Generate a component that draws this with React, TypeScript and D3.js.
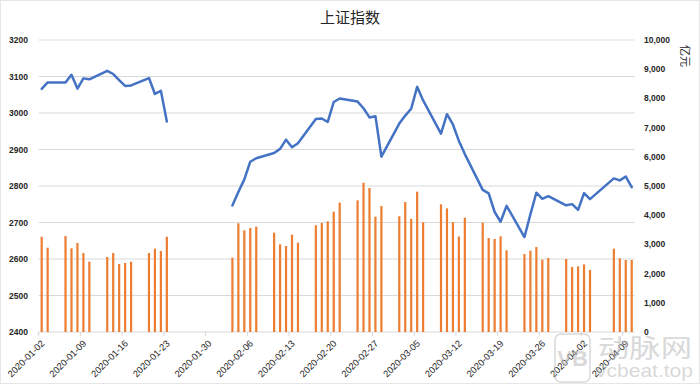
import React from "react";
import * as d3 from "d3";

// ---- data ----
const tradeDates: string[] = [
  "2020-01-02","2020-01-03","2020-01-06","2020-01-07","2020-01-08","2020-01-09","2020-01-10",
  "2020-01-13","2020-01-14","2020-01-15","2020-01-16","2020-01-17","2020-01-20","2020-01-21",
  "2020-01-22","2020-01-23",
  "2020-02-03","2020-02-04","2020-02-05","2020-02-06","2020-02-07","2020-02-10","2020-02-11",
  "2020-02-12","2020-02-13","2020-02-14","2020-02-17","2020-02-18","2020-02-19","2020-02-20",
  "2020-02-21","2020-02-24","2020-02-25","2020-02-26","2020-02-27","2020-02-28",
  "2020-03-02","2020-03-03","2020-03-04","2020-03-05","2020-03-06","2020-03-09","2020-03-10",
  "2020-03-11","2020-03-12","2020-03-13","2020-03-16","2020-03-17","2020-03-18","2020-03-19",
  "2020-03-20","2020-03-23","2020-03-24","2020-03-25","2020-03-26","2020-03-27","2020-03-30",
  "2020-03-31",
  "2020-04-01","2020-04-02","2020-04-03","2020-04-07","2020-04-08","2020-04-09","2020-04-10",
];

const indexClose: number[] = [
  3066, 3083.79, 3083.41, 3104.8, 3066.89, 3094.88, 3092.29,
  3115.57, 3106.82, 3090.04, 3074.08, 3075.5, 3095.79, 3052.14,
  3060.75, 2976.53,
  2746.61, 2783.29, 2818.09, 2866.51, 2875.96, 2890.49, 2901.67,
  2926.9, 2906.07, 2917.01, 2983.62, 2984.97, 2975.4, 3030.15,
  3039.67, 3031.23, 3013.05, 2987.93, 2991.33, 2880.3,
  2970.93, 2992.9, 3011.67, 3071.68, 3034.51, 2943.29, 2996.76,
  2968.52, 2923.49, 2887.43, 2789.25, 2779.64, 2728.76, 2702.13,
  2745.62, 2660.17, 2722.44, 2781.59, 2764.91, 2772.2, 2747.21,
  2750.3,
  2734.52, 2780.64, 2763.99, 2820.76, 2815.37, 2825.9, 2796.63,
];

const turnover: number[] = [
  3264, 2887, 3288, 2866, 3048, 2705, 2408,
  2568, 2705, 2329, 2363, 2408, 2705, 2853,
  2774, 3264,
  2545, 3721, 3482, 3562, 3607, 3402, 3002,
  2945, 3333, 3059, 3653, 3733, 3790, 4121,
  4429, 4509, 5114, 4932, 3950, 4315,
  3965, 4452, 3875, 4806, 3756, 4372, 4235,
  3760, 3270, 3916, 3744, 3219, 3185, 3276,
  2797, 2671, 2785, 2911, 2477, 2534, 2500,
  2226,
  2249, 2317, 2123, 2853, 2523, 2466, 2466,
];

const leftTicks: number[] = [2400, 2500, 2600, 2700, 2800, 2900, 3000, 3100, 3200];
const rightTicks: number[] = [0, 1000, 2000, 3000, 4000, 5000, 6000, 7000, 8000, 9000, 10000];
const titleText = "上证指数";
const rightUnit = "亿元";

// ---- layout ----
const W = 700, H = 384;
const L = 38.7, R = 634.7, T = 40, B = 332;

const fmtDay = d3.timeFormat("%Y-%m-%d");
const parse = d3.timeParse("%Y-%m-%d");

export default function App() {
  const days = d3.timeDay.range(new Date(2020, 0, 2), new Date(2020, 3, 11)).map(fmtDay);
  const x = d3.scaleBand<string>().domain(days).range([L, R]).padding(0);
  const bw = x.bandwidth();
  const cx = (d: string) => (x(d) as number) + bw / 2;
  const yL = d3.scaleLinear().domain([2400, 3200]).range([B, T]);
  const yR = d3.scaleLinear().domain([0, 10000]).range([B, T]);

  // split line into segments where gap > 5 calendar days
  const pts = tradeDates.map((d, i) => ({ d, v: indexClose[i], t: parse(d) as Date }));
  const segs: typeof pts[] = [];
  let cur: typeof pts = [];
  pts.forEach((p, i) => {
    if (i > 0 && d3.timeDay.count(pts[i - 1].t, p.t) > 5) {
      segs.push(cur);
      cur = [];
    }
    cur.push(p);
  });
  segs.push(cur);
  const line = d3.line<{ d: string; v: number }>().x((p) => cx(p.d)).y((p) => yL(p.v));

  const labelDays = days.filter((_, i) => i % 7 === 0);
  const numFont = "'Liberation Sans', Arial, sans-serif";

  return (
    <svg width={W} height={H} style={{ position: "absolute", left: 0, top: 0, background: "#fff" }}
      fontFamily={numFont}>
      <rect x={0.5} y={0.5} width={W - 1} height={H - 1} fill="#fff" stroke="#E6E6E6" />
      <text x={350} y={23} textAnchor="middle" fontSize={15} fill="#262626"
        fontFamily="'Noto Sans CJK SC', sans-serif">{titleText}</text>

      {leftTicks.map((t) => (
        <g key={t}>
          <line x1={L} x2={R} y1={yL(t)} y2={yL(t)} stroke="#D9D9D9" strokeWidth={1} />
          <text x={28} y={yL(t) + 3} textAnchor="end" fontSize={8.5} fontWeight="bold" fill="#262626">{t}</text>
        </g>
      ))}
      {rightTicks.map((t) => (
        <text key={t} x={644} y={yR(t) + 3} textAnchor="start" fontSize={8.5} fontWeight="bold" fill="#262626">
          {d3.format(",")(t)}
        </text>
      ))}
      <text transform={`translate(681,45) rotate(90)`} fontSize={11} fill="#262626"
        fontFamily="'Noto Sans CJK SC', sans-serif">{rightUnit}</text>

      {turnover.map((v, i) => (
        <rect key={i} x={cx(tradeDates[i]) - 1.1} width={2.2} y={yR(v)} height={B - yR(v)} fill="#ED7D31" />
      ))}

      {segs.map((s, i) => (
        <path key={i} d={line(s) || ""} fill="none" stroke="#4472C4" strokeWidth={2.5}
          strokeLinejoin="round" strokeLinecap="round" />
      ))}

      {labelDays.map((d) => (
        <g key={d}>
          <line x1={x(d) as number} x2={x(d) as number} y1={B} y2={B + 4} stroke="#D9D9D9" />
          <text transform={`translate(${cx(d) + 3.5},344) rotate(-45)`} textAnchor="end" fontSize={9.3} fill="#262626">
            {d}
          </text>
        </g>
      ))}

      <g opacity={0.55}>
        <rect x={555} y={334} width={35} height={48} rx={6} fill="none" stroke="#bbb" strokeWidth={1.5} />
        <text x={572.5} y={366} textAnchor="middle" fontSize={22} fontWeight="bold" fill="#bbb">VB</text>
        <text x={598} y={357} fontSize={25} fill="#bbb" textLength={94} lengthAdjust="spacingAndGlyphs"
          fontFamily="'Noto Sans CJK SC', sans-serif">动脉网</text>
        <text x={596} y={377} fontSize={19} fill="#bbb" textLength={97} lengthAdjust="spacingAndGlyphs">vcbeat.top</text>
      </g>
    </svg>
  );
}
